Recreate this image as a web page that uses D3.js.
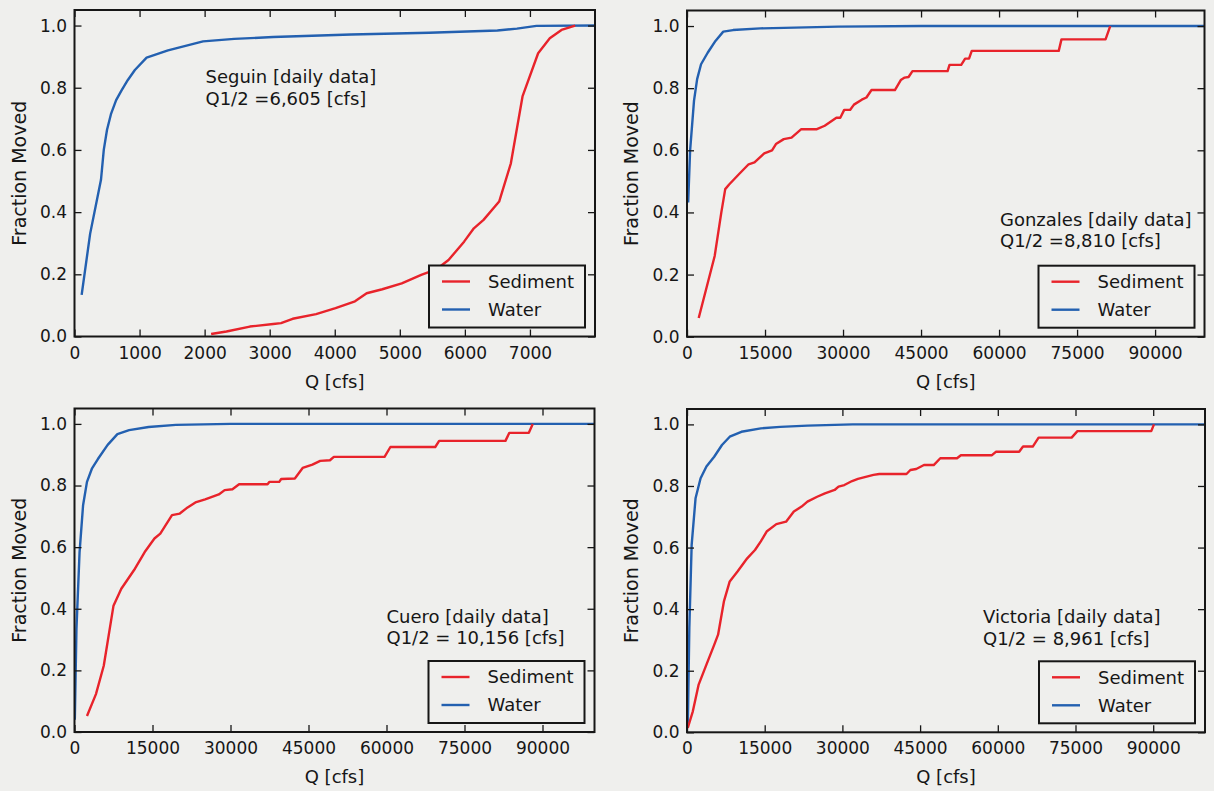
<!DOCTYPE html>
<html>
<head>
<meta charset="utf-8">
<script src="https://cdn.jsdelivr.net/npm/d3@7"></script>
<style>
  body { margin: 0; background: #efefed; }
  svg { display: block; font-family: "DejaVu Sans", sans-serif; }
</style>
</head>
<body>
<svg id="chart" width="1214" height="791"></svg>
<script>
// ---- data: [Q cfs, fraction moved] ----
var seguinWater = [[110,0.134],[240,0.33],[407,0.504],[450,0.6],[500,0.665],[560,0.715],[640,0.76],[719,0.79],[820,0.825],[928,0.857],[1108,0.897],[1437,0.92],[1976,0.949],[2455,0.957],[3054,0.963],[4251,0.971],[5449,0.977],[6500,0.984],[6800,0.99],[7100,0.999],[8000,1.0]];
var seguinSediment = [[2100,0.008],[2335,0.016],[2695,0.032],[3054,0.04],[3174,0.043],[3353,0.057],[3713,0.072],[4012,0.091],[4311,0.113],[4491,0.139],[4731,0.152],[5030,0.171],[5329,0.198],[5569,0.217],[5749,0.246],[5988,0.305],[6138,0.348],[6287,0.375],[6527,0.434],[6707,0.557],[6886,0.772],[7126,0.911],[7305,0.959],[7485,0.986],[7695,1.0]];

var gonzalesWater = [[225,0.432],[600,0.6],[1350,0.76],[1950,0.829],[2700,0.877],[3975,0.914],[5475,0.952],[6975,0.982],[8850,0.987],[14100,0.9925],[29100,0.998],[45000,1.0],[99500,1.0]];
var gonzalesSediment = [[2250,0.06],[5325,0.26],[6600,0.40],[7350,0.475],[8100,0.49],[9975,0.523],[11850,0.555],[12975,0.561],[14850,0.59],[16350,0.60],[17100,0.62],[18600,0.636],[20100,0.641],[21975,0.668],[24975,0.668],[26475,0.679],[28725,0.705],[29475,0.705],[30225,0.73],[31350,0.73],[32100,0.747],[33600,0.763],[34500,0.77],[35475,0.794],[39975,0.794],[41100,0.826],[41850,0.834],[42600,0.836],[43350,0.855],[50100,0.855],[50475,0.875],[52725,0.875],[53475,0.895],[54225,0.895],[54750,0.92],[71475,0.92],[72000,0.957],[80475,0.957],[81375,1.0]];

var cueroWater = [[60,0.04],[375,0.334],[975,0.584],[1650,0.736],[2400,0.812],[3375,0.856],[4500,0.886],[6375,0.932],[8250,0.967],[10500,0.98],[14250,0.99],[19500,0.997],[30000,1.0],[100000,1.0]];
var cueroSediment = [[2400,0.052],[4125,0.123],[5625,0.215],[7500,0.41],[9000,0.465],[11625,0.53],[13500,0.584],[15375,0.628],[16500,0.644],[18750,0.704],[20250,0.709],[21750,0.729],[23250,0.745],[25125,0.755],[27750,0.771],[28875,0.785],[30375,0.788],[31650,0.804],[37125,0.804],[37500,0.812],[39375,0.812],[39750,0.821],[42375,0.823],[43875,0.857],[45750,0.868],[47250,0.88],[49125,0.882],[49875,0.893],[59625,0.893],[60750,0.925],[69375,0.925],[70125,0.945],[82875,0.945],[83625,0.971],[87375,0.971],[88125,1.0]];

var victoriaWater = [[150,0.014],[450,0.338],[900,0.609],[1650,0.76],[2625,0.825],[3750,0.863],[5250,0.895],[6750,0.933],[8250,0.96],[10500,0.976],[14250,0.987],[18000,0.992],[23250,0.996],[32000,1.0],[100000,1.0]];
var victoriaSediment = [[150,0.014],[1125,0.068],[2250,0.155],[3750,0.22],[5250,0.284],[6000,0.317],[7125,0.425],[8250,0.49],[9750,0.522],[11625,0.565],[13125,0.592],[14250,0.62],[15375,0.652],[17250,0.676],[19125,0.684],[20625,0.717],[22125,0.733],[23250,0.749],[25125,0.765],[26625,0.776],[28500,0.787],[29250,0.798],[30375,0.803],[31875,0.816],[33000,0.823],[36000,0.836],[37125,0.839],[42375,0.839],[43125,0.852],[44250,0.855],[45750,0.868],[47625,0.868],[48900,0.89],[52125,0.89],[52875,0.9],[58875,0.9],[59625,0.911],[64125,0.911],[64875,0.928],[66750,0.928],[67875,0.957],[74250,0.957],[75375,0.978],[89625,0.978],[90150,1.0]];

var stations = ["Seguin", "Gonzales", "Cuero", "Victoria"];
var notes = ["Q1/2 =6,605 [cfs]", "Q1/2 =8,810 [cfs]", "Q1/2 = 10,156 [cfs]", "Q1/2 = 8,961 [cfs]"];
var xMax = [8000, 99500, 100000, 100000];
var seguinTicks = [0,1000,2000,3000,4000,5000,6000,7000];
var bigTicks = [0,15000,30000,45000,60000,75000,90000];
var yTicks = [0,0.2,0.4,0.6,0.8,1.0];
var legendNames = ["Sediment", "Water"];

var red = "#e8232b", blue = "#2360b0", ink = "#161616";

// panel boxes [left, top, right, bottom]
var boxes = [[74.5,10,595,336.5],[687,10.5,1204.5,336.7],[74.5,408.5,594.5,732],[687,409,1205,732.3]];
// annotation anchor, offset from panel left/top
var notePos = [[131,73],[313,215],[312,214],[296,214]];

var svg = d3.select('#chart');
svg.append('rect').attr('width',1214).attr('height',791).attr('fill','#efefed');

var series = [
	[seguinSediment, seguinWater],
	[gonzalesSediment, gonzalesWater],
	[cueroSediment, cueroWater],
	[victoriaSediment, victoriaWater]
];

for( var p = 0; p < 4; p++ ) {
	var b = boxes[p];
	var w = b[2]-b[0], h = b[3]-b[1];
	var g = svg.append('g').attr('transform','translate(' + b[0] + ',' + b[1] + ')');

	var x = d3.scaleLinear().domain([0, xMax[p]]).range([0, w]);
	var y = d3.scaleLinear().domain([0, 1.05]).range([h, 0]);
	var xt = p == 0 ? seguinTicks : bigTicks;

	g.append('clipPath').attr('id','clip'+p)
		.append('rect').attr('width',w).attr('height',h);

	var line = d3.line().x(function(d){ return x(d[0]); }).y(function(d){ return y(d[1]); });

	// water then sediment
	g.append('path').datum(series[p][1]).attr('d',line)
		.attr('fill','none').attr('stroke',blue).attr('stroke-width',2.4)
		.attr('stroke-linejoin','round')
		.attr('clip-path','url(#clip'+p+')');
	g.append('path').datum(series[p][0]).attr('d',line)
		.attr('fill','none').attr('stroke',red).attr('stroke-width',2.4)
		.attr('stroke-linejoin','round')
		.attr('clip-path','url(#clip'+p+')');

	// axes, ticks pointing inwards on all sides
	g.append('g').attr('transform','translate(0,' + h + ')')
		.call(d3.axisBottom(x).tickValues(xt).tickSize(-7).tickPadding(10).tickFormat(d3.format('d')));
	g.append('g')
		.call(d3.axisLeft(y).tickValues(yTicks).tickSize(-7).tickPadding(7.5).tickFormat(d3.format('.1f')));
	g.append('g').call(d3.axisTop(x).tickValues(xt).tickSize(-7).tickFormat(''));
	g.append('g').attr('transform','translate(' + w + ',0)')
		.call(d3.axisRight(y).tickValues(yTicks).tickSize(-7).tickFormat(''));

	g.selectAll('.domain').remove();
	g.selectAll('.tick line').attr('stroke',ink).attr('stroke-width',1.3);
	g.selectAll('.tick text').attr('fill',ink).style('font-size','17px').style('font-family','"DejaVu Sans", sans-serif');

	g.append('rect').attr('width',w).attr('height',h)
		.attr('fill','none').attr('stroke',ink).attr('stroke-width',2);

	// axis labels
	g.append('text').attr('x', w/2).attr('y', h + 51)
		.attr('text-anchor','middle').attr('fill',ink).style('font-size','18px')
		.text('Q [cfs]');
	g.append('text').attr('transform','translate(' + (-49) + ',' + (h/2) + ') rotate(-90)')
		.attr('text-anchor','middle').attr('fill',ink).style('font-size','19px')
		.text('Fraction Moved');

	// station note
	var np = notePos[p];
	var note = g.append('text').attr('x', np[0]).attr('y', np[1]).attr('fill',ink).style('font-size','18px');
	note.append('tspan').attr('x', np[0]).text(stations[p] + ' [daily data]');
	note.append('tspan').attr('x', np[0]).attr('dy', 21.5).text(notes[p]);

	// legend
	var lw = 156, lh = 62;
	var lg = g.append('g').attr('transform','translate(' + (w - 10 - lw) + ',' + (h - 9 - lh) + ')');
	lg.append('rect').attr('width',lw).attr('height',lh)
		.attr('fill','#efefed').attr('stroke',ink).attr('stroke-width',2);
	var cols = [red, blue];
	for( var k = 0; k < 2; k++ ) {
		var ry = 16 + k*28;
		lg.append('line').attr('x1',13).attr('x2',41).attr('y1',ry).attr('y2',ry)
			.attr('stroke',cols[k]).attr('stroke-width',2.4);
		lg.append('text').attr('x',59).attr('y',ry).attr('dy','0.35em')
			.attr('fill',ink).style('font-size','18px').text(legendNames[k]);
	}
}
</script>
</body>
</html>
